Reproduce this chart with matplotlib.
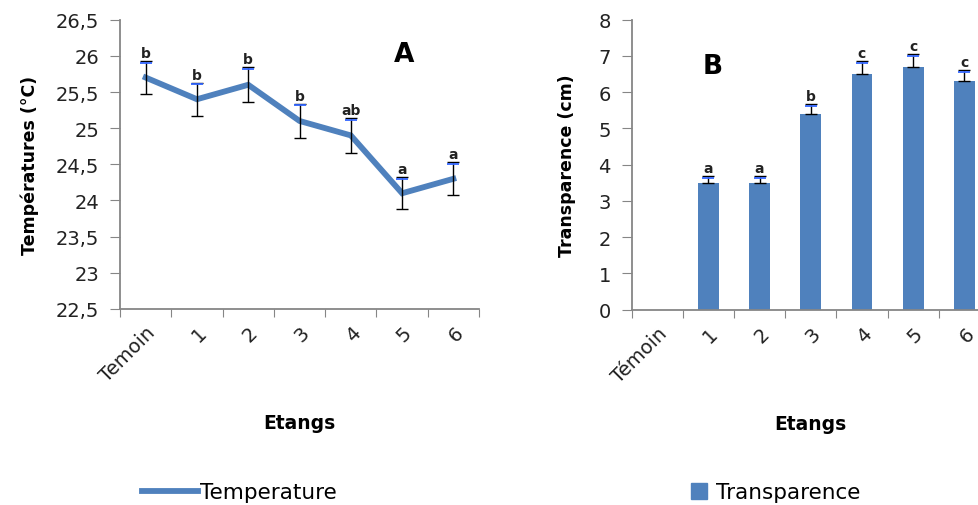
import matplotlib
matplotlib.use("Agg")
import matplotlib.pyplot as plt
import numpy as np
from matplotlib.lines import Line2D
from matplotlib.patches import Patch

# data
etangs_a = ["Temoin", "1", "2", "3", "4", "5", "6"]
etangs_b = ["Témoin", "1", "2", "3", "4", "5", "6"]
temperature = [25.7, 25.4, 25.6, 25.1, 24.9, 24.1, 24.3]
temp_err = [0.23, 0.23, 0.24, 0.24, 0.24, 0.22, 0.23]
temp_letters = ["b", "b", "b", "b", "ab", "a", "a"]

transparence = [np.nan, 3.5, 3.5, 5.4, 6.5, 6.7, 6.3]
transp_err = [np.nan, 0.18, 0.18, 0.27, 0.36, 0.35, 0.32]
transp_letters = ["", "a", "a", "b", "c", "c", "c"]

blue = "#4F81BD"
grey = "#868686"
tick_fs = 14


def fr_fmt(v, pos=None):
    s = ("%.1f" % v).rstrip("0").rstrip(".")
    return s.replace(".", ",")


def style_axis(ax, labels):
    n = len(labels)
    ax.set_xlim(0, n)
    ax.set_xticks(np.arange(n + 1))
    ax.set_xticklabels([])
    ax.set_xticks(np.arange(n) + 0.5, minor=True)
    ax.set_xticklabels(labels, minor=True, rotation=45, ha="right",
                       rotation_mode="anchor", fontsize=tick_fs, color="#222222")
    ax.tick_params(axis="x", which="major", length=6, color=grey, direction="out")
    ax.tick_params(axis="x", which="minor", length=0, pad=10)
    ax.tick_params(axis="y", length=7, color=grey, labelsize=tick_fs,
                   labelcolor="#222222", pad=8)
    for s in ["top", "right"]:
        ax.spines[s].set_visible(False)
    for s in ["left", "bottom"]:
        ax.spines[s].set_color(grey)
        ax.spines[s].set_linewidth(1.3)
    ax.set_xlabel("Etangs", fontsize=13.5, fontweight="bold", labelpad=20)


fig = plt.figure(figsize=(9.79, 5.06), dpi=100)

# panel A : temperature
ax1 = fig.add_axes([0.1226, 0.3874, 0.3667, 0.5717])
x = np.arange(len(etangs_a)) + 0.5
ax1.plot(x, temperature, color=blue, lw=4.2, solid_joinstyle="miter")
ax1.errorbar(x, temperature, yerr=temp_err, fmt="none", ecolor="black",
             elinewidth=1, capsize=4.3, capthick=1)
top_a = np.array(temperature) + np.array(temp_err)
ax1.plot(x, top_a - 0.025, ls="none", marker="_", ms=8, mew=1.3, color="#3366FF")
for xi, yi, lt in zip(x, top_a, temp_letters):
    ax1.text(xi, yi + 0.015, lt, ha="center", va="bottom", fontsize=10,
             fontweight="bold", color="#222222")
ax1.set_ylim(22.5, 26.5)
ax1.set_yticks(np.arange(22.5, 26.51, 0.5))
ax1.yaxis.set_major_formatter(plt.FuncFormatter(fr_fmt))
style_axis(ax1, etangs_a)
ax1.set_ylabel("Températures (°C)", fontsize=12.5, fontweight="bold", labelpad=12)
ax1.text(0.79, 0.88, "A", transform=ax1.transAxes, fontsize=19,
         fontweight="bold", ha="center", va="center")
fig.legend(handles=[Line2D([0], [0], color=blue, lw=4.2)], labels=["Temperature"],
           loc="center left", bbox_to_anchor=(0.136, 0.025), frameon=False,
           fontsize=15.5, handlelength=2.6, handletextpad=0.1,
           borderaxespad=0)

# panel B : transparence
ax2 = fig.add_axes([0.6452, 0.386, 0.366, 0.573])
xb = np.arange(len(etangs_b)) + 0.5
ax2.bar(xb, transparence, width=0.41, color=blue, zorder=2)
ax2.errorbar(xb, transparence,
             yerr=[np.zeros(len(transp_err)), transp_err], fmt="none",
             ecolor="black", elinewidth=1, capsize=4.3, capthick=1, zorder=3)
top_b = np.array(transparence) + np.array(transp_err)
ax2.plot(xb, top_b - 0.05, ls="none", marker="_", ms=8, mew=1.3,
         color="#3366FF", zorder=3)
for xi, yi, lt in zip(xb, top_b, transp_letters):
    if lt:
        ax2.text(xi, yi + 0.03, lt, ha="center", va="bottom", fontsize=10,
                 fontweight="bold", color="#222222")
ax2.set_ylim(0, 8)
ax2.set_yticks(np.arange(0, 9, 1))
style_axis(ax2, etangs_b)
ax2.set_ylabel("Transparence (cm)", fontsize=12.5, fontweight="bold", labelpad=16)
ax2.text(0.225, 0.84, "B", transform=ax2.transAxes, fontsize=19,
         fontweight="bold", ha="center", va="center")
fig.legend(handles=[Patch(color=blue)], labels=["Transparence"],
           loc="center left", bbox_to_anchor=(0.697, 0.025), frameon=False,
           fontsize=15.5, handlelength=0.75, handleheight=0.75, handletextpad=0.4,
           borderaxespad=0)

fig.savefig("out.png", dpi=100)
